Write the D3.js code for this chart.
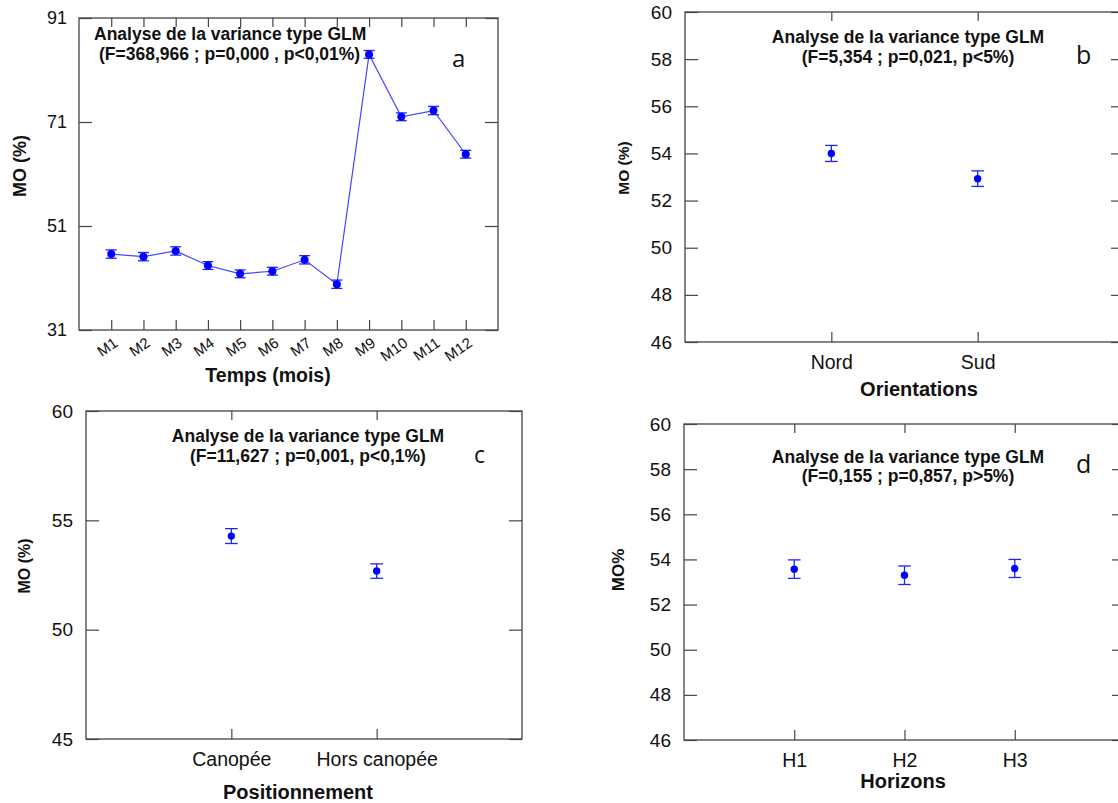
<!DOCTYPE html>
<html>
<head>
<meta charset="UTF-8">
<title>MO (%) - analyse de la variance type GLM</title>
<style>
  body { margin: 0; background: #fff; }
  .frame { fill: none; stroke: #444; stroke-width: 1.3px; }
  .axis path { display: none; }
  .axis line { stroke: #444; stroke-width: 1.2px; }
  .axis text { font-family: "Liberation Sans", Arial, sans-serif; fill: #111; }
  .glm { font-family: "Liberation Sans", Arial, sans-serif; font-weight: bold; fill: #111; }
  .atitle { font-family: "Liberation Sans", Arial, sans-serif; font-weight: bold; fill: #111; }
  .letter { font-family: "Open Sans", "Noto Sans", sans-serif; fill: #111; }
  .serie { fill: none; stroke: #4444ff; stroke-width: 1.2px; }
  .err { stroke: #2222ff; stroke-width: 1.3px; }
  .dot { fill: #0000ff; }
</style>
</head>
<body>
<svg id="chart" width="1118" height="803"></svg>
<script src="https://cdnjs.cloudflare.com/ajax/libs/d3/7.8.5/d3.min.js"></script>
<script>
// a : temps (mois)
var moisLabels = ["M1", "M2", "M3", "M4", "M5", "M6", "M7", "M8", "M9", "M10", "M11", "M12"];
var moisMO = [45.6, 45.1, 46.2, 43.4, 41.8, 42.3, 44.5, 39.8, 84.0, 72.0, 73.2, 64.8];
var moisErr = [0.8, 0.8, 0.8, 0.75, 0.75, 0.75, 0.8, 0.8, 0.75, 0.75, 0.8, 0.75];
var moisTicks = [31, 51, 71, 91];

// b : orientations
var orientLabels = ["Nord", "Sud"];
var orientMO = [54.0, 52.93];
var orientErr = [0.34, 0.33];
var orientTicks = [46, 48, 50, 52, 54, 56, 58, 60];

// c : positionnement
var posLabels = ["Canopée", "Hors canopée"];
var posMO = [54.28, 52.68];
var posErr = [0.34, 0.33];
var posTicks = [45, 50, 55, 60];

// d : horizons
var horizLabels = ["H1", "H2", "H3"];
var horizMO = [53.57, 53.3, 53.6];
var horizErr = [0.41, 0.41, 0.4];
var horizTicks = [46, 48, 50, 52, 54, 56, 58, 60];

var svg = d3.select("#chart");

function drawPanel(p) {
  var g = svg.append("g");
  var x = d3.scalePoint().domain(p.cats).range([p.left, p.right]).padding(1);
  var y = d3.scaleLinear().domain(d3.extent(p.yTicks)).range([p.bottom, p.top]);

  var rows = p.cats.map(function (c, i) {
    return { cat: c, v: p.means[i], e: p.errs[i] };
  });

  g.append("rect").attr("class", "frame")
    .attr("x", p.left).attr("y", p.top)
    .attr("width", p.right - p.left).attr("height", p.bottom - p.top);

  // left axis, ticks inward
  g.append("g").attr("class", "axis")
    .attr("transform", "translate(" + p.left + ",0)")
    .call(d3.axisLeft(y).tickValues(p.yTicks).tickSizeInner(-13).tickSizeOuter(0).tickPadding(p.yPad))
    .selectAll("text").style("font-size", p.yFont + "px");

  // right axis, no labels
  g.append("g").attr("class", "axis")
    .attr("transform", "translate(" + p.right + ",0)")
    .call(d3.axisRight(y).tickValues(p.yTicks).tickSizeInner(-13).tickSizeOuter(0).tickFormat(""));

  // top axis, no labels
  g.append("g").attr("class", "axis")
    .attr("transform", "translate(0," + p.top + ")")
    .call(d3.axisTop(x).tickSizeInner(-9).tickSizeOuter(0).tickFormat(""));

  var xb = g.append("g").attr("class", "axis")
    .attr("transform", "translate(0," + p.bottom + ")")
    .call(d3.axisBottom(x).tickSizeInner(-10).tickSizeOuter(0).tickPadding(p.xPad));
  xb.selectAll("text").style("font-size", p.xFont + "px");
  if (p.rotate) {
    xb.selectAll("text")
      .attr("text-anchor", "end")
      .attr("y", 0)
      .attr("dy", "0.35em")
      .attr("transform", "translate(4,11) rotate(-35)");
  }

  if (p.connect) {
    g.append("path").attr("class", "serie")
      .attr("d", d3.line().x(function (d) { return x(d.cat); }).y(function (d) { return y(d.v); })(rows));
  }

  var eb = g.selectAll(".eb").data(rows).enter().append("g").attr("class", "eb");
  eb.append("line").attr("class", "err")
    .attr("x1", function (d) { return x(d.cat); }).attr("x2", function (d) { return x(d.cat); })
    .attr("y1", function (d) { return y(d.v - d.e); }).attr("y2", function (d) { return y(d.v + d.e); });
  [-1, 1].forEach(function (s) {
    eb.append("line").attr("class", "err")
      .attr("x1", function (d) { return x(d.cat) - p.cap; }).attr("x2", function (d) { return x(d.cat) + p.cap; })
      .attr("y1", function (d) { return y(d.v + s * d.e); }).attr("y2", function (d) { return y(d.v + s * d.e); });
  });
  eb.append("circle").attr("class", "dot")
    .attr("cx", function (d) { return x(d.cat); })
    .attr("cy", function (d) { return y(d.v); })
    .attr("r", p.r);

  // GLM text
  p.glm.forEach(function (t) {
    g.append("text").attr("class", "glm")
      .attr("x", t.x).attr("y", t.y)
      .attr("text-anchor", t.anchor)
      .style("font-size", "17.5px")
      .text(t.text);
  });

  g.append("text").attr("class", "letter")
    .attr("x", p.letter.x).attr("y", p.letter.y)
    .style("font-size", p.letter.size + "px")
    .text(p.letter.text);

  g.append("text").attr("class", "atitle")
    .attr("x", p.xTitle.x).attr("y", p.xTitle.y)
    .attr("text-anchor", "middle")
    .style("font-size", p.xTitle.size + "px")
    .text(p.xTitle.text);

  g.append("text").attr("class", "atitle")
    .attr("transform", "translate(" + p.yTitle.x + "," + p.yTitle.y + ") rotate(-90)")
    .attr("text-anchor", "middle")
    .attr("dy", "0.35em")
    .style("font-size", p.yTitle.size + "px")
    .text(p.yTitle.text);
}

drawPanel({
  cats: moisLabels, means: moisMO, errs: moisErr, yTicks: moisTicks,
  left: 79, top: 18, right: 498, bottom: 330,
  yPad: 12, yFont: 18, xPad: 12, xFont: 15, rotate: true, connect: true,
  cap: 5.5, r: 4,
  glm: [
    { text: "Analyse de la variance type GLM", x: 94, y: 40, anchor: "start" },
    { text: "(F=368,966 ; p=0,000 , p<0,01%)", x: 99, y: 60, anchor: "start" }
  ],
  letter: { text: "a", x: 452, y: 67, size: 24 },
  xTitle: { text: "Temps (mois)", x: 268, y: 382, size: 19.5 },
  yTitle: { text: "MO (%)", x: 20, y: 166, size: 18 }
});

drawPanel({
  cats: orientLabels, means: orientMO, errs: orientErr, yTicks: orientTicks,
  left: 685, top: 12, right: 1124, bottom: 342,
  yPad: 13, yFont: 19, xPad: 13, xFont: 19.5, rotate: false, connect: false,
  cap: 6.3, r: 3.7,
  glm: [
    { text: "Analyse de la variance type GLM", x: 908, y: 43, anchor: "middle" },
    { text: "(F=5,354 ; p=0,021, p<5%)", x: 908, y: 63, anchor: "middle" }
  ],
  letter: { text: "b", x: 1076, y: 64, size: 25 },
  xTitle: { text: "Orientations", x: 919, y: 396, size: 20 },
  yTitle: { text: "MO (%)", x: 624, y: 168, size: 15.5 }
});

drawPanel({
  cats: posLabels, means: posMO, errs: posErr, yTicks: posTicks,
  left: 86, top: 411, right: 522, bottom: 739,
  yPad: 13, yFont: 19, xPad: 13, xFont: 19.5, rotate: false, connect: false,
  cap: 6.3, r: 3.7,
  glm: [
    { text: "Analyse de la variance type GLM", x: 308, y: 442, anchor: "middle" },
    { text: "(F=11,627 ; p=0,001, p<0,1%)", x: 308, y: 462, anchor: "middle" }
  ],
  letter: { text: "c", x: 474, y: 463, size: 23 },
  xTitle: { text: "Positionnement", x: 298, y: 799, size: 20 },
  yTitle: { text: "MO (%)", x: 24, y: 566, size: 16 }
});

drawPanel({
  cats: horizLabels, means: horizMO, errs: horizErr, yTicks: horizTicks,
  left: 684, top: 424, right: 1125, bottom: 740,
  yPad: 13, yFont: 19, xPad: 13, xFont: 19.5, rotate: false, connect: false,
  cap: 6.3, r: 3.7,
  glm: [
    { text: "Analyse de la variance type GLM", x: 908, y: 463, anchor: "middle" },
    { text: "(F=0,155 ; p=0,857, p>5%)", x: 908, y: 482, anchor: "middle" }
  ],
  letter: { text: "d", x: 1076, y: 473, size: 25 },
  xTitle: { text: "Horizons", x: 903, y: 788, size: 20 },
  yTitle: { text: "MO%", x: 618, y: 570, size: 17 }
});
</script>
</body>
</html>
